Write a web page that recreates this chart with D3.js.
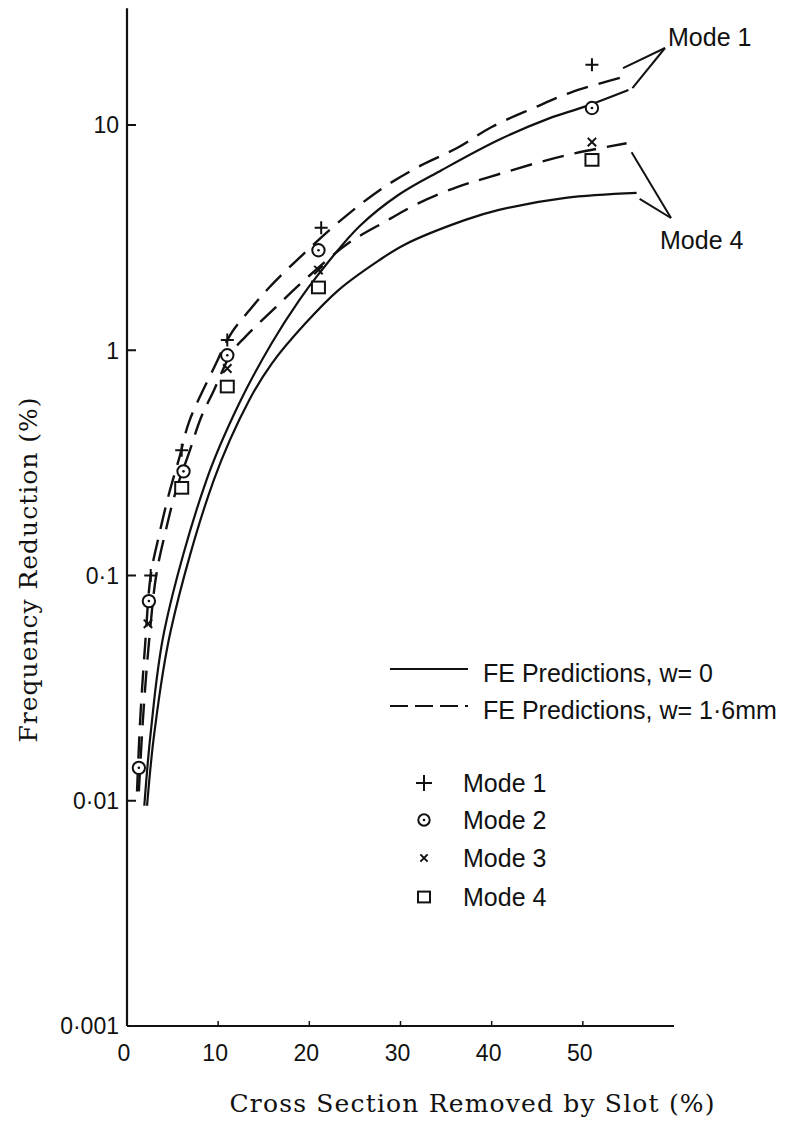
<!DOCTYPE html>
<meta charset="utf-8">
<body style="margin:0;background:#fff">
<script src="https://d3js.org/d3.v7.min.js"></script>
<script>
var width = 802,
    height = 1124;

// axis ticks
var xTicks = [0, 10, 20, 30, 40, 50];
var yTicks = [0.001, 0.01, 0.1, 1, 10];
var yTickLabels = ["0·001", "0·01", "0·1", "1", "10"];

// FE predictions, w = 0 (solid)
var fe0Mode1 = [[1.9,0.0095],[2.6,0.02],[4.1,0.057],[8.7,0.264],[12.3,0.58],[15.9,1.08],[18.9,1.67],[21.1,2.2],[25.5,3.55],[29.8,4.9],[34.5,6.3],[40.8,8.6],[46.3,10.7],[50.3,12.1],[55.0,14.3]];
var fe0Mode4 = [[2.2,0.0095],[3.0,0.02],[4.8,0.057],[9.5,0.264],[13.4,0.6],[15.9,0.875],[19.6,1.32],[23.2,1.85],[27.6,2.5],[30.5,2.95],[37.2,3.8],[40.8,4.2],[48.1,4.75],[55.9,5.0]];
// FE predictions, w = 1.6mm (dashed)
var fe16Mode1 = [[1.1,0.011],[1.45,0.023],[2.0,0.05],[2.6,0.1],[3.5,0.15],[4.6,0.23],[5.8,0.34],[6.8,0.48],[9.5,0.83],[11.5,1.2],[13.4,1.5],[15.6,1.9],[19.2,2.64],[24.0,3.94],[28.2,5.3],[32.2,6.6],[36.2,7.9],[40.0,9.8],[44.6,11.9],[48.8,14.0],[54.3,16.3]];
var fe16Mode4 = [[1.3,0.011],[1.75,0.023],[2.4,0.05],[3.2,0.1],[4.2,0.155],[5.4,0.24],[6.8,0.35],[8.1,0.5],[9.5,0.66],[11.5,0.98],[13.0,1.15],[16.3,1.55],[19.7,2.09],[24.3,2.99],[28.4,3.74],[32.0,4.5],[36.2,5.3],[39.9,5.9],[45.3,6.85],[49.2,7.5],[54.8,8.3]];

// measured points
var mode1Pts = [[2.6,0.1],[6.0,0.36],[11.0,1.11],[21.3,3.5],[51.0,18.5]];
var mode2Pts = [[1.3,0.014],[2.4,0.077],[6.2,0.29],[11.0,0.95],[21.0,2.78],[51.0,11.9]];
var mode3Pts = [[2.3,0.061],[11.0,0.83],[21.0,2.27],[51.0,8.4]];
var mode4Pts = [[6.0,0.245],[11.0,0.69],[21.0,1.9],[51.0,7.0]];

var modeNames = ["Mode 1", "Mode 2", "Mode 3", "Mode 4"];
var lineNames = ["FE Predictions, w= 0", "FE Predictions, w= 1·6mm"];

var svg = d3.select("body").append("svg")
    .attr("width", width)
    .attr("height", height)
    .style("background", "#fff");

var x = d3.scaleLinear().domain([0, 60]).range([127, 674]);
var y = d3.scaleLog().domain([0.001, 10]).range([1026, 125]);

var ink = "#111";
var sans = "'Liberation Sans', Arial, sans-serif";
var serif = "'DejaVu Serif', serif";

// axes
svg.append("line")
    .attr("x1", x(0)).attr("x2", x(0))
    .attr("y1", y(0.001)).attr("y2", y(33))
    .attr("stroke", ink).attr("stroke-width", 2.2);
svg.append("line")
    .attr("x1", x(0)).attr("x2", x(60))
    .attr("y1", y(0.001)).attr("y2", y(0.001))
    .attr("stroke", ink).attr("stroke-width", 2.2);

svg.selectAll(".ytick").data(yTicks.slice(1)).enter().append("line")
    .attr("x1", x(0)).attr("x2", x(0) + 9)
    .attr("y1", function(d) { return y(d); })
    .attr("y2", function(d) { return y(d); })
    .attr("stroke", ink).attr("stroke-width", 2);

svg.selectAll(".xtick").data(xTicks.slice(1)).enter().append("line")
    .attr("x1", function(d) { return x(d); })
    .attr("x2", function(d) { return x(d); })
    .attr("y1", y(0.001)).attr("y2", y(0.001) - 5)
    .attr("stroke", ink).attr("stroke-width", 1.5);

svg.selectAll(".ylab").data(yTicks).enter().append("text")
    .attr("x", x(0) - 8)
    .attr("y", function(d) { return y(d); })
    .attr("dy", "0.36em")
    .attr("text-anchor", "end")
    .style("font-family", sans).style("font-size", "23px").attr("fill", ink)
    .text(function(d, i) { return yTickLabels[i]; });

svg.selectAll(".xlab").data(xTicks).enter().append("text")
    .attr("x", function(d) { return x(d) - 3; })
    .attr("y", 1061)
    .attr("text-anchor", "middle")
    .style("font-family", sans).style("font-size", "23px").attr("fill", ink)
    .text(function(d) { return d; });

// axis titles
svg.append("text")
    .attr("transform", "translate(37,570) rotate(-90)")
    .attr("text-anchor", "middle")
    .attr("textLength", 345).attr("lengthAdjust", "spacing")
    .style("font-family", serif).style("font-size", "25px").attr("fill", ink)
    .text("Frequency Reduction (%)");

svg.append("text")
    .attr("x", 472).attr("y", 1112)
    .attr("text-anchor", "middle")
    .attr("textLength", 485).attr("lengthAdjust", "spacing")
    .style("font-family", serif).style("font-size", "25px").attr("fill", ink)
    .text("Cross Section Removed by Slot (%)");

// curves
var line = d3.line()
    .x(function(d) { return x(d[0]); })
    .y(function(d) { return y(d[1]); })
    .curve(d3.curveCatmullRom.alpha(0.5));

[fe0Mode1, fe0Mode4].forEach(function(c) {
  svg.append("path").datum(c).attr("d", line)
     .attr("fill", "none").attr("stroke", ink).attr("stroke-width", 2.2);
});
[fe16Mode1, fe16Mode4].forEach(function(c) {
  svg.append("path").datum(c).attr("d", line)
     .attr("fill", "none").attr("stroke", ink).attr("stroke-width", 2.4)
     .attr("stroke-dasharray", "22,11");
});

// markers
function drawMarker(g, kind, cx, cy, s) {
  if (kind === 0) {
    g.append("path").attr("d", "M" + (cx - s) + "," + cy + "H" + (cx + s) + "M" + cx + "," + (cy - s) + "V" + (cy + s))
     .attr("stroke", ink).attr("stroke-width", 2).attr("fill", "none");
  } else if (kind === 1) {
    g.append("circle").attr("cx", cx).attr("cy", cy).attr("r", s * 0.95)
     .attr("stroke", ink).attr("stroke-width", 2).attr("fill", "#fff");
    g.append("circle").attr("cx", cx).attr("cy", cy).attr("r", 1.3).attr("fill", ink);
  } else if (kind === 2) {
    var h = s * 0.6;
    g.append("path").attr("d", "M" + (cx - h) + "," + (cy - h) + "L" + (cx + h) + "," + (cy + h) + "M" + (cx + h) + "," + (cy - h) + "L" + (cx - h) + "," + (cy + h))
     .attr("stroke", ink).attr("stroke-width", 2).attr("fill", "none");
  } else {
    g.append("rect").attr("x", cx - s).attr("y", cy - s * 0.9).attr("width", 2 * s).attr("height", 1.8 * s)
     .attr("stroke", ink).attr("stroke-width", 2).attr("fill", "#fff");
  }
}

var mg = svg.append("g");
[mode1Pts, mode2Pts, mode3Pts, mode4Pts].forEach(function(pts, k) {
  pts.forEach(function(p) { drawMarker(mg, k, x(p[0]), y(p[1]), k === 2 ? 7 : 6.5); });
});

// curve annotations
function leader(vx, vy, pts) {
  pts.forEach(function(p) {
    svg.append("line").attr("x1", vx).attr("y1", vy).attr("x2", p[0]).attr("y2", p[1])
       .attr("stroke", ink).attr("stroke-width", 2);
  });
}
var e1d = fe16Mode1[fe16Mode1.length - 1], e1s = fe0Mode1[fe0Mode1.length - 1];
var e4d = fe16Mode4[fe16Mode4.length - 1], e4s = fe0Mode4[fe0Mode4.length - 1];
leader(665, 48, [[x(e1d[0]) + 1, y(e1d[1]) - 9], [x(e1s[0]) + 4, y(e1s[1]) - 2]]);
leader(671, 218, [[x(e4d[0]) + 5, y(e4d[1]) + 9], [x(e4s[0]) + 3, y(e4s[1]) + 6]]);

svg.append("text").attr("x", 668).attr("y", 46)
    .style("font-family", sans).style("font-size", "25px").attr("fill", ink).text(modeNames[0]);
svg.append("text").attr("x", 660).attr("y", 249)
    .style("font-family", sans).style("font-size", "25px").attr("fill", ink).text(modeNames[3]);

// legend: lines
var lg = svg.append("g");
[669, 706].forEach(function(ly, i) {
  lg.append("line").attr("x1", 390).attr("x2", 468).attr("y1", ly).attr("y2", ly)
    .attr("stroke", ink).attr("stroke-width", 2.2)
    .attr("stroke-dasharray", i === 0 ? null : "18,7");
  lg.append("text").attr("x", 483).attr("y", ly + 13)
    .style("font-family", sans).style("font-size", "25px").attr("fill", ink)
    .text(lineNames[i]);
});

// legend: markers
[783, 820, 858, 897].forEach(function(ly, k) {
  drawMarker(lg, k, 424, ly, k === 0 ? 8 : 6);
  lg.append("text").attr("x", 463).attr("y", ly + 9)
    .style("font-family", sans).style("font-size", "25px").attr("fill", ink)
    .text(modeNames[k]);
});
</script>
</body>
